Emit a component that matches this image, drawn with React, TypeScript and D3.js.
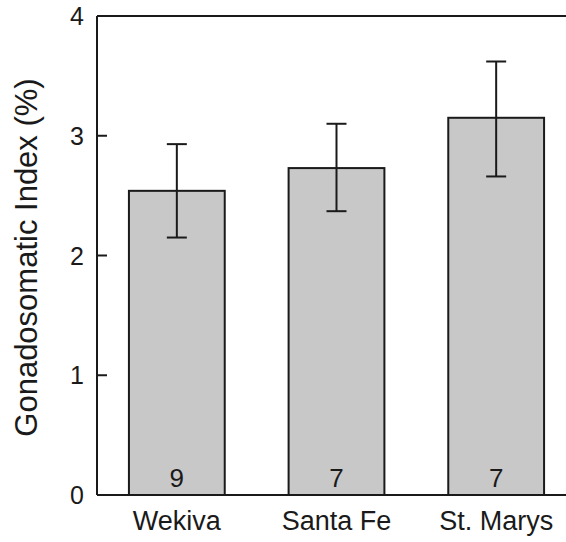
import React, { useEffect } from 'react';
import * as d3 from 'd3';

const sites = ['Wekiva', 'Santa Fe', 'St. Marys'];
const gsiMean = [2.54, 2.73, 3.15];
const gsiLow = [2.15, 2.37, 2.66];
const gsiHigh = [2.93, 3.10, 3.62];
const sampleN = [9, 7, 7];
const yTicks = [0, 1, 2, 3, 4];

export default function App() {
  useEffect(() => {
    document.body.style.margin = '0';
  }, []);

  const width = 566;
  const height = 542;
  const margin = { top: 16, right: -10, bottom: 47, left: 97 };
  const plotRight = width - margin.right;
  const plotBottom = height - margin.bottom;

  const x = d3.scaleBand()
    .domain(sites)
    .range([margin.left, plotRight])
    .paddingInner(0.4)
    .paddingOuter(0.2);

  const y = d3.scaleLinear()
    .domain([0, 4])
    .range([plotBottom, margin.top]);

  const font = '"Liberation Sans", Arial, sans-serif';
  const ink = '#1a1a1a';

  return (
    <svg width={width} height={height} style={{ display: 'block', fontFamily: font }}>
      {/* bars */}
      {sites.map((s, i) => (
        <rect key={s}
          x={x(s)}
          y={y(gsiMean[i])}
          width={x.bandwidth()}
          height={y(0) - y(gsiMean[i])}
          fill="#c8c8c8"
          stroke={ink}
          strokeWidth={2} />
      ))}

      {/* error bars */}
      {sites.map((s, i) => {
        const cx = (x(s) as number) + x.bandwidth() / 2;
        return (
          <g key={s} stroke={ink} strokeWidth={2}>
            <line x1={cx} x2={cx} y1={y(gsiLow[i])} y2={y(gsiHigh[i])} />
            <line x1={cx - 10} x2={cx + 10} y1={y(gsiLow[i])} y2={y(gsiLow[i])} />
            <line x1={cx - 10} x2={cx + 10} y1={y(gsiHigh[i])} y2={y(gsiHigh[i])} />
          </g>
        );
      })}

      {/* n labels */}
      {sites.map((s, i) => (
        <text key={s}
          x={(x(s) as number) + x.bandwidth() / 2}
          y={plotBottom - 8}
          textAnchor="middle"
          fontSize={26}
          fill={ink}>{sampleN[i]}</text>
      ))}

      {/* frame: left, top, bottom, right */}
      <g stroke={ink} strokeWidth={2} fill="none">
        <line x1={margin.left} x2={margin.left} y1={margin.top} y2={plotBottom} />
        <line x1={margin.left} x2={plotRight} y1={margin.top} y2={margin.top} />
        <line x1={margin.left} x2={plotRight} y1={plotBottom} y2={plotBottom} />
        <line x1={plotRight} x2={plotRight} y1={margin.top} y2={plotBottom} />
      </g>

      {/* y ticks */}
      {yTicks.map(t => (
        <g key={t}>
          <line x1={margin.left} x2={margin.left + 10} y1={y(t)} y2={y(t)} stroke={ink} strokeWidth={2} />
          <line x1={plotRight - 10} x2={plotRight} y1={y(t)} y2={y(t)} stroke={ink} strokeWidth={2} />
          <text x={margin.left - 13} y={y(t)} dy="0.36em" textAnchor="end" fontSize={25} fill={ink}>{t}</text>
        </g>
      ))}

      {/* x labels */}
      {sites.map(s => (
        <text key={s}
          x={(x(s) as number) + x.bandwidth() / 2}
          y={530}
          textAnchor="middle"
          fontSize={27}
          fill={ink}>{s}</text>
      ))}

      {/* y title */}
      <text
        transform={`translate(37, ${(margin.top + plotBottom) / 2 + 2}) rotate(-90)`}
        textAnchor="middle"
        fontSize={31}
        fill={ink}>Gonadosomatic Index (%)</text>
    </svg>
  );
}
